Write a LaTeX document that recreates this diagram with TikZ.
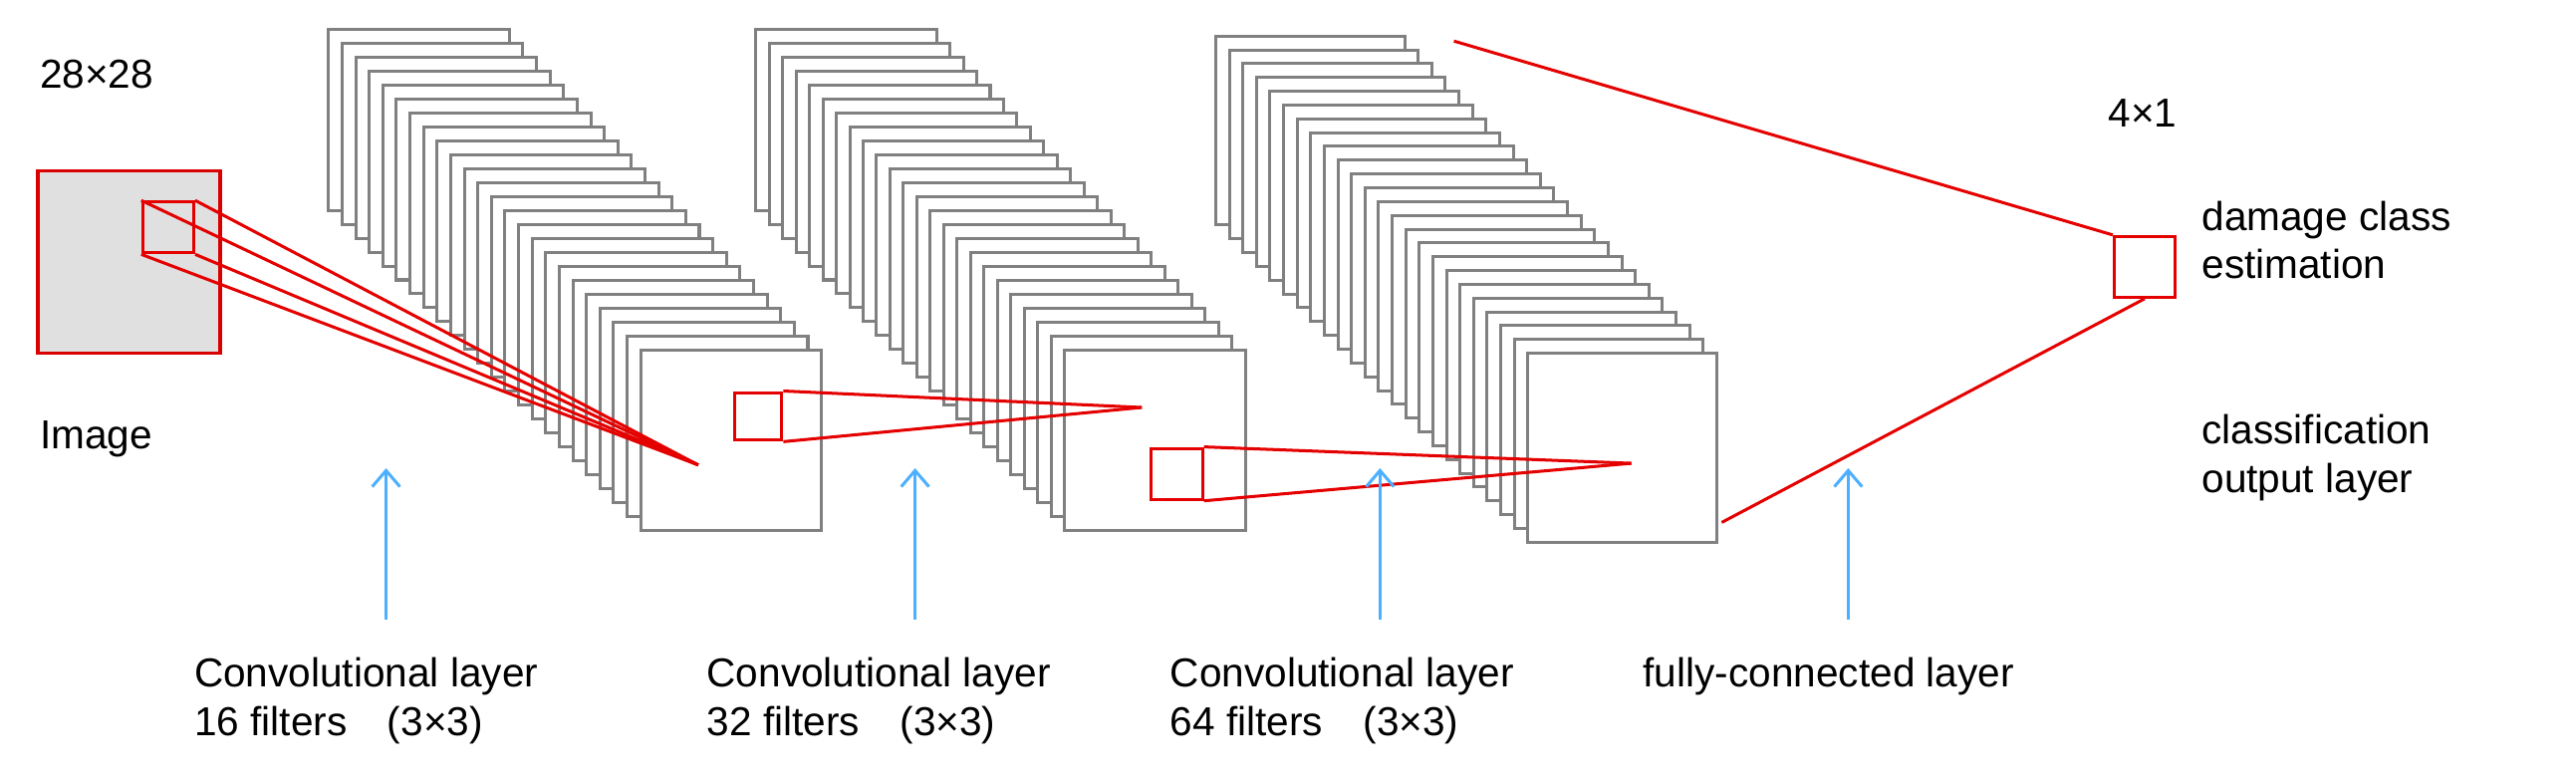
\documentclass[tikz,border=0pt]{standalone}
\usepackage{fontspec}
\setmainfont{Liberation Sans}
\usetikzlibrary{arrows.meta}
\begin{document}
\begin{tikzpicture}[x=0.025cm,y=-0.025cm,
  sheet/.style={draw=black!50,fill=white,line width=1.3pt},
  red/.style={draw=red!85!black,line width=1.5pt},
  rl/.style={draw=red!90!black,line width=1.3pt},
  up/.style={draw=blue!45!cyan!70!white,line width=1.3pt,-{Straight Barb[length=7pt,width=12pt]}},
  lab/.style={font=\fontsize{17.5pt}{21pt}\selectfont,anchor=north west,inner sep=0,align=left}]
\useasboundingbox (0,0) rectangle (1568,477);
% image
\node[red,fill=black!12,minimum size=111*0.025cm,inner sep=0,anchor=north west] (img) at (22,103) {};
\node[rl,minimum size=31*0.025cm,inner sep=0,anchor=north west] (p1) at (86,122) {};
\node[lab] (t0) at (24,36) {28×28};
\node[lab] (ti) at (24,256) {Image};
% stacks
\foreach \bx/\by/\fx/\fy/\w/\nm in {200/18/390/213/110/s1, 460/18/648/213/110/s2, 740/22/930/215/115/s3}{
  \foreach \i in {0,...,23}{
    \pgfmathsetmacro\xx{\bx+(\fx-\bx)*\i/23}
    \pgfmathsetmacro\yy{\by+(\fy-\by)*\i/23}
    \draw[sheet] (\xx,\yy) rectangle ++(\w,\w);
  }
  \node[minimum size=\w*0.025cm,inner sep=0,anchor=north west] (\nm) at (\fx,\fy) {};
}
\coordinate (a1) at (425,283);
\foreach \c in {north west,north east,south west,south east}{\draw[rl] (p1.\c) -- (a1);}
\node[rl,minimum size=29*0.025cm,inner sep=0,anchor=north west] (p2) at (446,238) {};
\coordinate (a2) at (695,248);
\foreach \c in {north east,south east}{\draw[rl] (p2.\c) -- (a2);}
\node[rl,minimum size=31*0.025cm,inner sep=0,anchor=north west] (p3) at (700,272) {};
\coordinate (a3) at (993,282);
\foreach \c in {north east,south east}{\draw[rl] (p3.\c) -- (a3);}
% output
\node[rl,minimum size=37*0.025cm,inner sep=0,anchor=north west] (out) at (1286,143) {};
\coordinate (f1) at (885,25);
\coordinate (f2) at (1048,318);
\draw[rl] (f1) -- (out.north west);
\draw[rl] (f2) -- (out.south);
\node[lab] (t41) at (1283,60) {4×1};
\node[lab] (td) at (1340,122) {damage class\\estimation};
\node[lab] (tc) at (1340,252) {classification\\output layer};
% arrows
\foreach \x/\n in {235/1,557/2,840/3,1125/4}{
  \coordinate (b\n) at (\x,377); \coordinate (e\n) at (\x,285);
  \draw[up] (b\n) -- (e\n);}
\node[lab] (c1) at (118,400) {Convolutional layer\\16 filters\quad(3×3)};
\node[lab] (c2) at (430,400) {Convolutional layer\\32 filters\quad(3×3)};
\node[lab] (c3) at (712,400) {Convolutional layer\\64 filters\quad(3×3)};
\node[lab] (c4) at (1000,400) {fully-connected layer};
\end{tikzpicture}
\end{document}
